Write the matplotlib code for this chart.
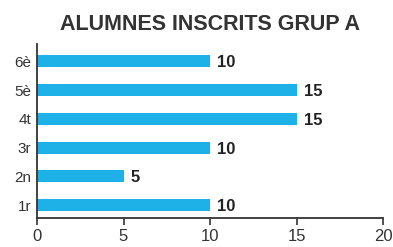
import matplotlib.pyplot as plt

# Data
cursos = ['1r', '2n', '3r', '4t', '5è', '6è']
alumnes = [10, 5, 10, 15, 15, 10]
x_ticks = [0, 5, 10, 15, 20]

plt.rcParams['font.family'] = ['Liberation Sans', 'DejaVu Sans']

fig = plt.figure(figsize=(3.93, 2.47), dpi=100)
ax = fig.add_axes([0.094, 0.117, 0.881, 0.705])

pos = range(len(cursos))
ax.barh(pos, alumnes, height=0.42, color='#1db1e8')

# Value labels next to each bar
for p, v in zip(pos, alumnes):
    ax.text(v + 0.4, p - 0.05, str(v), va='center', ha='left',
            fontsize=12, fontweight='bold', color='#222222')

ax.set_xlim(0, 20)
ax.set_ylim(-0.45, 5.6)
ax.set_xticks(x_ticks)
ax.set_yticks(list(pos))
ax.set_yticklabels(cursos)

for s in ['top', 'right']:
    ax.spines[s].set_visible(False)
ax.spines['left'].set_color('#333333')
ax.spines['bottom'].set_color('#333333')
ax.spines['left'].set_linewidth(1.3)
ax.spines['bottom'].set_linewidth(1.3)

ax.tick_params(axis='y', length=0, pad=4, labelsize=11, labelcolor='#333333')
ax.tick_params(axis='x', length=5, width=1.2, color='#333333',
               pad=3, labelsize=12, labelcolor='#333333')

fig.suptitle('ALUMNES INSCRITS GRUP A', x=0.535, y=0.945,
             fontsize=15.5, fontweight='bold', color='#333333')

plt.savefig('out.png', dpi=100)
